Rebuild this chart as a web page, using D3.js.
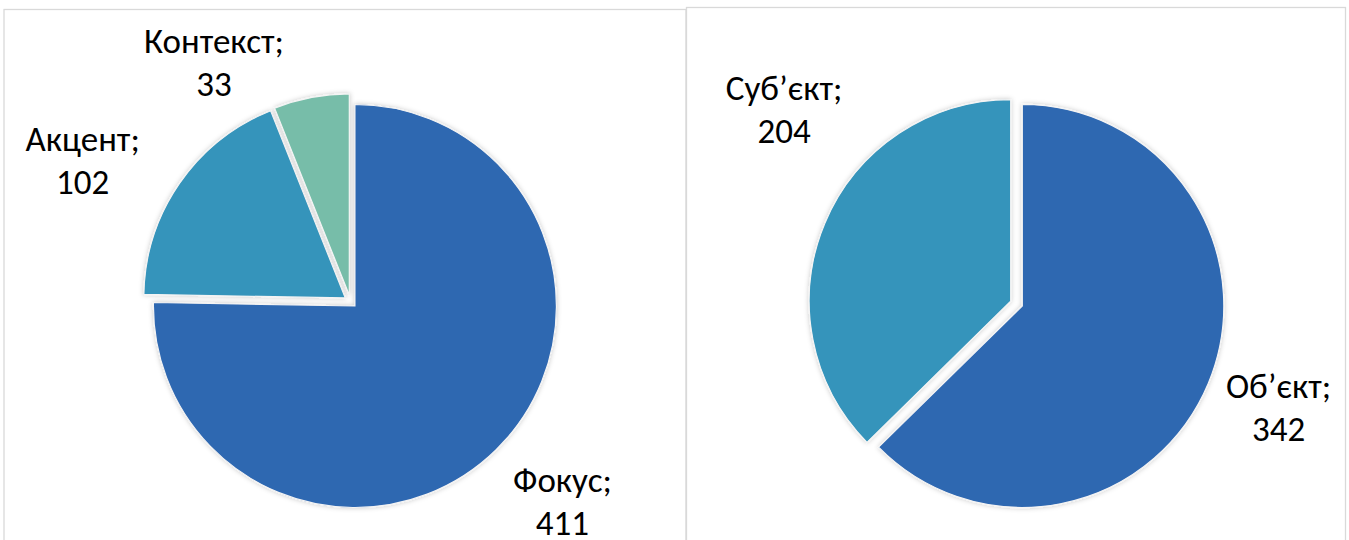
<!DOCTYPE html>
<html>
<head>
<meta charset="utf-8">
<script src="https://cdn.jsdelivr.net/npm/d3@7"></script>
<style>
    html, body { margin: 0; padding: 0; background: #fff; }
    svg { display: block; }
    .label { font-family: Carlito, Calibri, Roboto, "Noto Sans", sans-serif; font-size: 35px; fill: #000; }
</style>
</head>
<body>
<svg id="chart" width="1349" height="540"></svg>
<script>
// left pie
const focusCategories = ["Фокус", "Акцент", "Контекст"];
const focusValues = [411, 102, 33];
const focusColors = ["#2e67b1", "#3594bb", "#77bda9"];

// right pie
const roleCategories = ["Об’єкт", "Суб’єкт"];
const roleValues = [342, 204];
const roleColors = ["#2e67b1", "#3594bb"];

// where Excel's "best fit" put each label: angle shift (deg) and radius factor
const focusLabelLayout = [[-2, 1.45], [-7, 1.5], [-19, 1.36]];
const roleLabelLayout = [[-1, 1.4], [17, 1.5]];

const svg = d3.select("#chart");

const defs = svg.append("defs");
const shadow = defs.append("filter")
    .attr("id", "shadow")
    .attr("x", "-20%").attr("y", "-20%")
    .attr("width", "140%").attr("height", "140%");
shadow.append("feDropShadow")
    .attr("dx", 0).attr("dy", 0)
    .attr("stdDeviation", 2.5)
    .attr("flood-color", "#000")
    .attr("flood-opacity", 0.22);

function drawPie(panel, categories, values, colors, labelLayout) {
    const g = svg.append("g");

    g.append("rect")
        .attr("x", panel.x)
        .attr("y", panel.y)
        .attr("width", panel.w)
        .attr("height", panel.h)
        .attr("fill", "#fff")
        .attr("stroke", "#d9d9d9")
        .attr("stroke-width", 1.3);

    const radius = 201.5;
    const explode = 6.3;
    const cx = panel.x + panel.w / 2 + panel.dx;
    const cy = panel.y + panel.cy;

    const data = categories.map((c, i) => ({ name: c, value: values[i], color: colors[i], layout: labelLayout[i] }));

    const pie = d3.pie().value(d => d.value).sort(null);
    const arc = d3.arc().innerRadius(0).outerRadius(radius);
    const arcs = pie(data);

    const pieG = g.append("g")
        .attr("transform", `translate(${cx}, ${cy})`);

    pieG.selectAll(".slice")
        .data(arcs)
        .enter()
        .append("path")
        .attr("class", "slice")
        .attr("d", arc)
        .attr("fill", d => d.data.color)
        .attr("stroke", "#f4f4f4")
        .attr("stroke-width", 1.2)
        .attr("filter", "url(#shadow)")
        .attr("transform", d => {
            const mid = (d.startAngle + d.endAngle) / 2;
            return `translate(${Math.sin(mid) * explode}, ${-Math.cos(mid) * explode})`;
        });

    const labels = pieG.selectAll(".label")
        .data(arcs)
        .enter()
        .append("text")
        .attr("class", "label")
        .attr("text-anchor", "middle")
        .attr("transform", d => {
            const mid = (d.startAngle + d.endAngle) / 2 + d.data.layout[0] * Math.PI / 180;
            const r = radius * d.data.layout[1];
            return `translate(${Math.sin(mid) * r}, ${-Math.cos(mid) * r})`;
        });

    labels.append("tspan")
        .attr("x", 0)
        .attr("y", -10.5)
        .text(d => d.data.name + ";");

    labels.append("tspan")
        .attr("x", 0)
        .attr("y", 32.5)
        .text(d => d.data.value);
}

drawPie({ x: 4, y: 9.5, w: 682, h: 600, dx: 5.5, cy: 292 }, focusCategories, focusValues, focusColors, focusLabelLayout);
drawPie({ x: 686.5, y: 7.5, w: 659, h: 600, dx: 0.5, cy: 296 }, roleCategories, roleValues, roleColors, roleLabelLayout);
</script>
</body>
</html>
